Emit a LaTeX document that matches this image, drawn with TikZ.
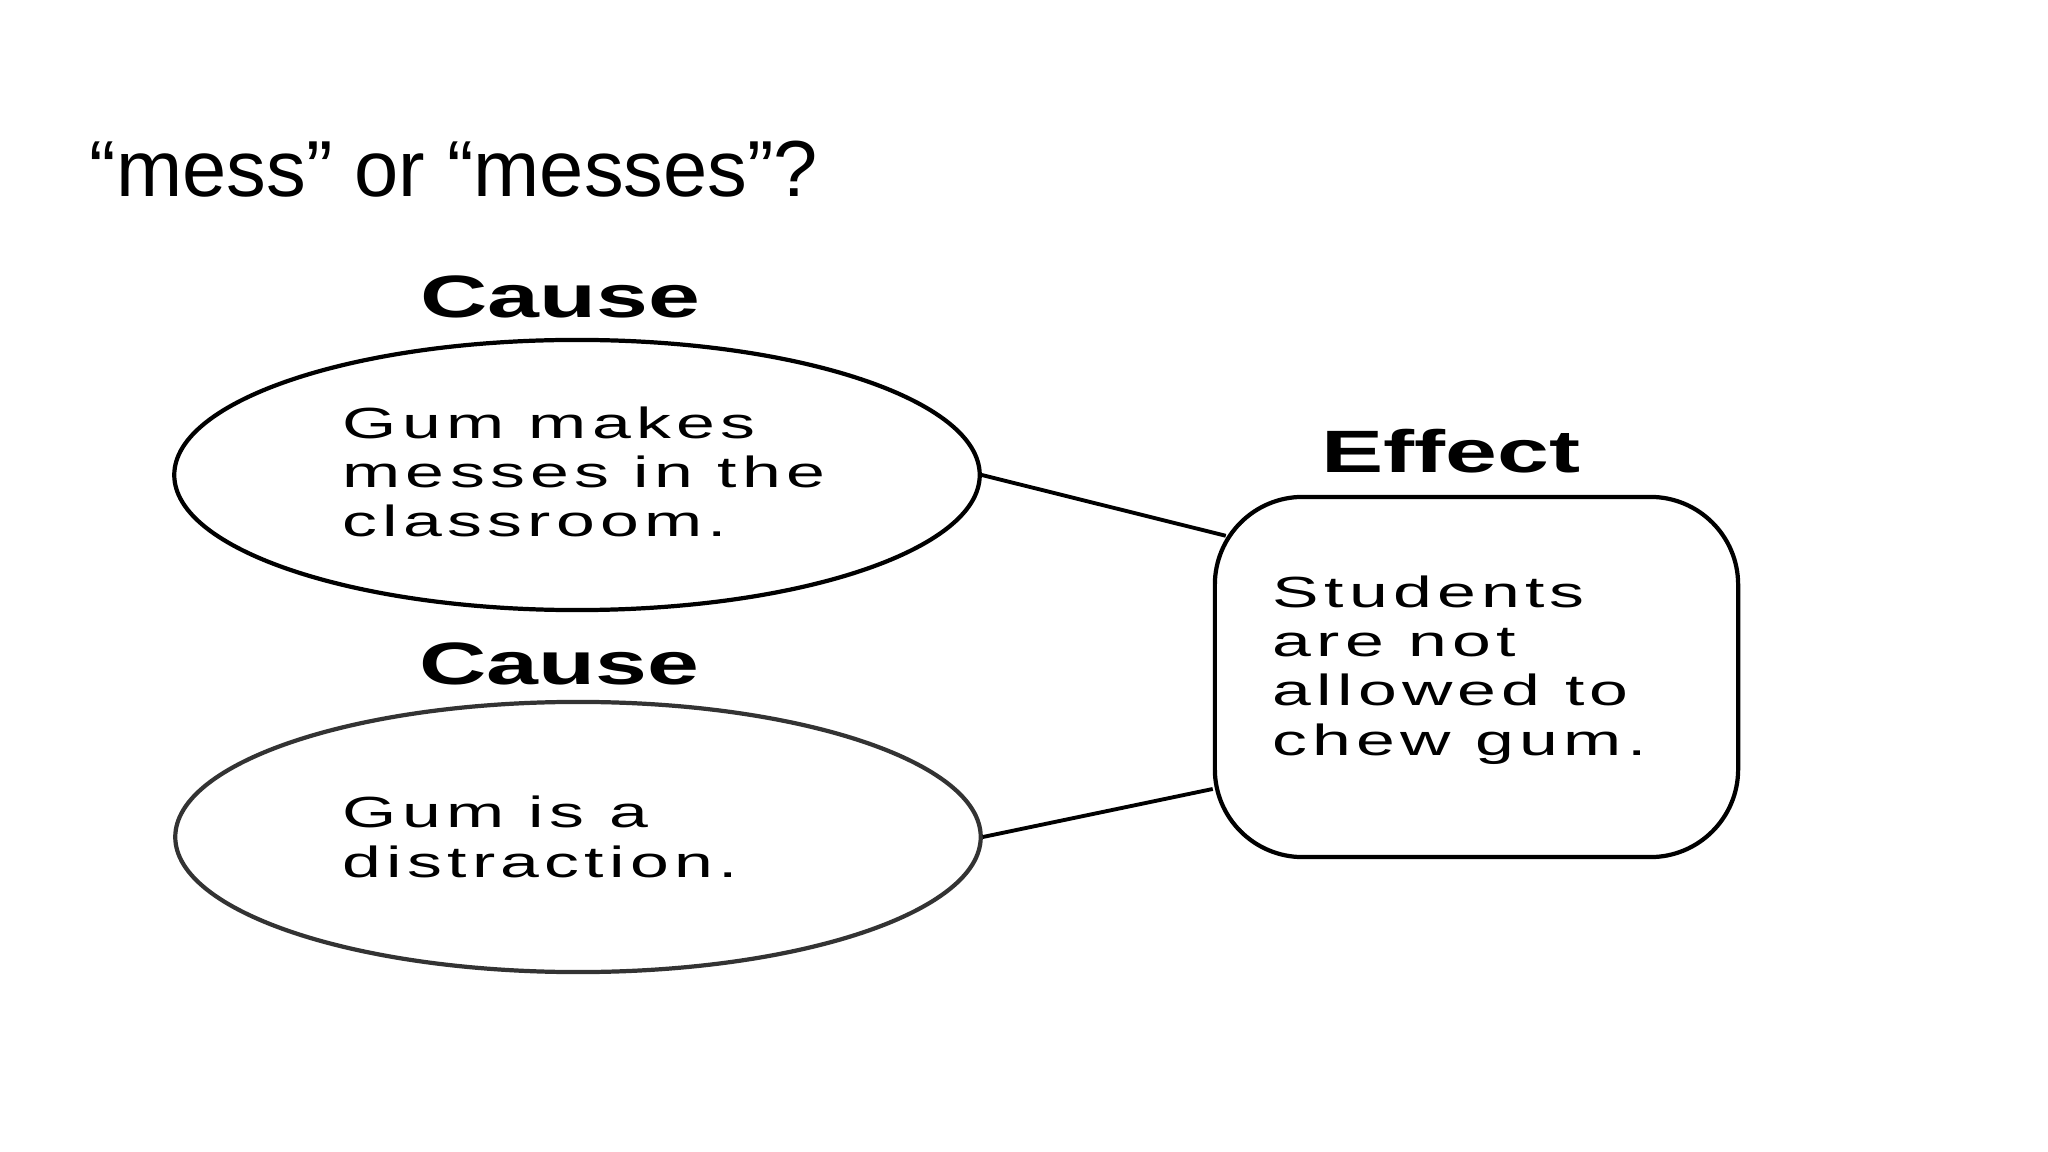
\documentclass[tikz,border=0pt]{standalone}
\usepackage{fontspec}
\setmainfont{Liberation Sans}
\newfontfamily\headfont[FakeStretch=1.56]{Liberation Sans}
\newfontfamily\bodyfont[FakeStretch=1.6, LetterSpace=12]{Liberation Sans}
\usetikzlibrary{shapes.geometric, calc, positioning}
\tikzset{
    causeShape/.style={ellipse, draw, line width=1.2pt, inner sep=0pt, minimum width=8.05cm, minimum height=2.7cm},
    effectShape/.style={rectangle, draw, line width=1.2pt, rounded corners=25pt, minimum width=5.23cm, minimum height=3.6cm},
    headLabel/.style={anchor=base, inner sep=0pt, font=\headfont\bfseries\fontsize{17pt}{20pt}\selectfont},
    bodyText/.style={anchor=base west, inner sep=0pt, align=left, font=\bodyfont\fontsize{12.4pt}{13.95pt}\selectfont},
    link/.style={-, line width=1.1pt},
}

\begin{document}
\begin{tikzpicture}[x=0.01cm, y=-0.01cm]
    \useasboundingbox (0,0) rectangle (2048,1152);

    \node[anchor=base west, inner sep=0pt, font=\fontsize{22.6pt}{27pt}\selectfont] (title) at (89,197) {“mess” or “messes”?};

    % shapes
    \node[causeShape] (cause1) at (577,475) {};
    \node[causeShape, draw=black!80] (cause2) at (578,837) {};
    \node[effectShape] (effect) at (1476.5,677) {};

    % headings
    \node[headLabel] (causeHead1) at (560,318) {Cause};
    \node[headLabel] (causeHead2) at (559,685) {Cause};
    \node[headLabel] (effectHead) at (1451,473) {Effect};

    % texts (base = last line)
    \node[bodyText] (causeText1) at (342,537) {Gum makes\\messes in the\\classroom.};
    \node[bodyText] (causeText2) at (342,877) {Gum is a\\distraction.};
    \node[bodyText] (effectText) at (1272,755) {Students\\are not\\allowed to\\chew gum.};

    \draw[link] (cause1.east) -- ($(effect.north west)+(13,41)$);
    \draw[link] (cause2.east) -- (effect.203);

\end{tikzpicture}
\end{document}
